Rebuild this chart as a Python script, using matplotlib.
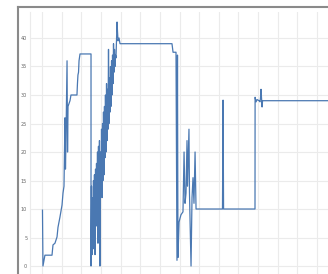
import matplotlib
matplotlib.use("Agg")
import matplotlib.pyplot as plt

# série, découpée en morceaux (x en unités de l'axe, y = valeur)
x_debut = [0.5, 1, 3, 10.2, 11.2, 13.2, 15.3, 16.3, 18.3, 20.4, 21.4, 22.4, 22.9, 23.4,
           23.9, 24.4, 25.5, 26, 26.5, 28.5, 29.5, 35.6, 36.1, 36.6, 37.2, 37.7, 38.7, 49.9]
y_debut = [9.8, 0, 1.9, 1.9, 3.7, 4.0, 5.1, 6.8, 8.6, 10.7, 12.8, 14, 20, 26,
           17, 22, 36, 20, 28, 29, 30, 30, 32, 33.5, 34, 36, 37.2, 37.2]

x_montee = [49.9, 50.4, 50.9, 51.4, 51.9, 52.4, 52.9, 53.4, 54, 54.5,
            55, 55.5, 56, 56.5, 57, 57.5, 58, 58.5, 59, 59.5,
            60.1, 60.6, 61.1, 61.6, 62.1, 62.6, 63.1, 63.6, 64.1, 64.6,
            65.2, 65.7, 66.2, 66.7, 67.2, 67.7, 68.2, 68.7, 69.2, 69.7,
            70.2, 70.8, 71.3, 71.8, 72.3, 72.8, 73.3, 73.8, 74.3, 74.8,
            75.3, 76.4, 76.9, 77.4, 78.4, 79.4]
y_montee = [0, 14, 2, 12, 3, 15, 5, 16, 2, 17,
            7, 18, 9, 20, 4, 21, 10, 22, 0, 20,
            13, 24, 12, 25, 15, 27, 16, 28, 19, 30,
            20, 32, 22, 31, 24, 38, 25, 33, 27, 35,
            28, 36, 30, 37, 32, 39, 34, 38, 35, 37,
            36.5, 42.8, 41, 39.5, 40, 39]

x_chute = [132.3, 133.4, 136.4, 137.4, 137.9, 138.4, 139.5, 140.5, 141.5, 143.5,
           144.6, 145.6, 146.6, 147.6, 148.1, 149.6, 150.1, 150.7, 151.7, 152.7,
           153.7, 154.7, 155.8, 156.8, 157.8]
y_chute = [39, 37.5, 37.5, 1.0, 37, 1.5, 7.7, 8.4, 9, 9.5,
           20, 11, 12.8, 22, 14, 24, 13, 8, 0, 12,
           15.5, 11, 20, 10, 10]

x_fin = [183.7, 184.3, 184.8, 216.8, 216.9, 217.9, 218.9, 220.9, 221.9, 222.4,
         222.9, 224, 224.5, 291.1]
y_fin = [10, 29.1, 10, 10, 29.6, 28.8, 29.2, 29.0, 28.8, 29.5,
         31, 27.9, 29.0, 29.0]

y_ticks = [0, 5, 10, 15, 20, 25, 30, 35, 40]
x_ticks = list(range(0, 300, 20))

x_vals = x_debut + x_montee + x_chute + x_fin
y_vals = y_debut + y_montee + y_chute + y_fin

fig = plt.figure(figsize=(3.28, 2.74), dpi=100)

# cadre gris (bords gauche et haut)
cadre = fig.add_axes([18 / 328, 0, 1 - 18 / 328, 1 - 7 / 274])
cadre.set_xticks([])
cadre.set_yticks([])
for s in ["right", "bottom"]:
    cadre.spines[s].set_visible(False)
for s in ["left", "top"]:
    cadre.spines[s].set_color("#8a8a8a")
    cadre.spines[s].set_linewidth(1.5)

ax = fig.add_axes([30 / 328, 0, 1 - 30 / 328, 1 - 12 / 274])
ax.plot(x_vals, y_vals, color="#4a78b2", linewidth=0.9)
ax.set_xlim(-12.2, 291.1)
ax.set_ylim(-1.4, 44.56)
ax.set_yticks(y_ticks)
ax.set_xticks(x_ticks)
ax.set_xticklabels([])
ax.tick_params(axis="both", length=0, labelsize=3.5, labelcolor="#666666", pad=2)
ax.grid(True, color="#ebebeb", linewidth=0.8)
for s in ["right", "bottom", "top"]:
    ax.spines[s].set_visible(False)
ax.spines["left"].set_color("#ebebeb")
ax.patch.set_alpha(0)

fig.savefig("out.png", dpi=100)
